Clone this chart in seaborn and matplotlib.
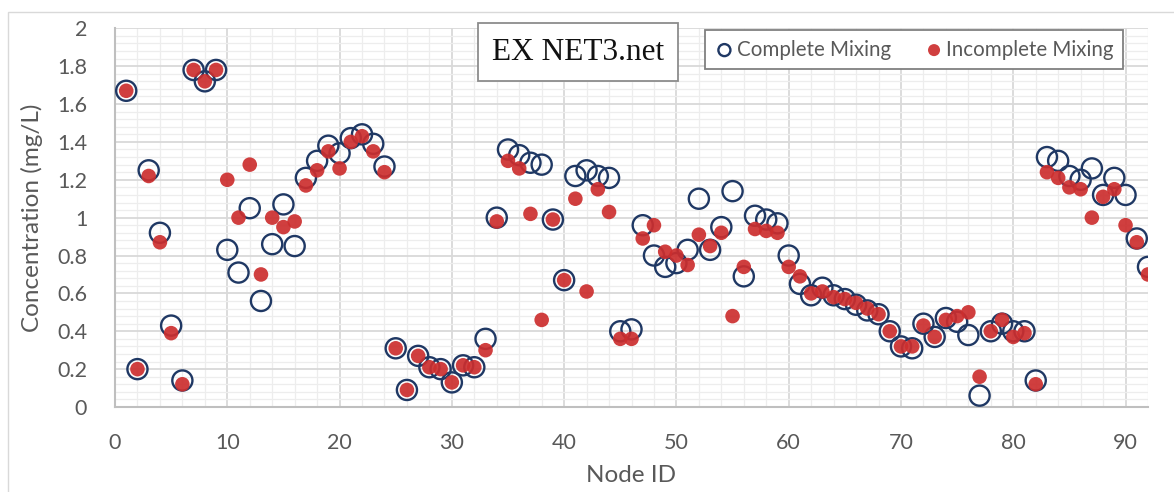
import numpy as np
import pandas as pd
import matplotlib
matplotlib.use("Agg")
import matplotlib.pyplot as plt
import matplotlib.patches as mpatches
from matplotlib.ticker import MultipleLocator, FuncFormatter
import seaborn as sns

# ---------------- data ----------------
node_ids = list(range(1, 93))
complete_mixing = [
    1.67, 0.20, 1.25, 0.92, 0.43, 0.14, 1.78, 1.72, 1.78, 0.83,
    0.71, 1.05, 0.56, 0.86, 1.07, 0.85, 1.21, 1.30, 1.38, 1.34,
    1.42, 1.44, 1.39, 1.27, 0.31, 0.09, 0.27, 0.21, 0.20, 0.13,
    0.22, 0.21, 0.36, 1.00, 1.36, 1.33, 1.29, 1.28, 0.99, 0.67,
    1.22, 1.25, 1.22, 1.21, 0.40, 0.41, 0.96, 0.80, 0.74, 0.76,
    0.83, 1.10, 0.83, 0.95, 1.14, 0.69, 1.01, 0.99, 0.97, 0.80,
    0.65, 0.59, 0.63, 0.59, 0.57, 0.54, 0.51, 0.49, 0.40, 0.32,
    0.31, 0.44, 0.37, 0.47, 0.45, 0.38, 0.06, 0.40, 0.44, 0.40,
    0.40, 0.14, 1.32, 1.30, 1.22, 1.20, 1.26, 1.12, 1.21, 1.12,
    0.89, 0.74,
]
incomplete_mixing = [
    1.67, 0.20, 1.22, 0.87, 0.39, 0.12, 1.78, 1.72, 1.78, 1.20,
    1.00, 1.28, 0.70, 1.00, 0.95, 0.98, 1.17, 1.25, 1.35, 1.26,
    1.40, 1.43, 1.35, 1.24, 0.31, 0.09, 0.27, 0.21, 0.20, 0.13,
    0.22, 0.21, 0.30, 0.98, 1.30, 1.26, 1.02, 0.46, 0.99, 0.67,
    1.10, 0.61, 1.15, 1.03, 0.36, 0.36, 0.89, 0.96, 0.82, 0.80,
    0.75, 0.91, 0.85, 0.92, 0.48, 0.74, 0.94, 0.93, 0.92, 0.74,
    0.69, 0.60, 0.61, 0.58, 0.57, 0.55, 0.52, 0.49, 0.40, 0.32,
    0.32, 0.43, 0.37, 0.46, 0.48, 0.50, 0.16, 0.40, 0.46, 0.37,
    0.39, 0.12, 1.24, 1.21, 1.16, 1.15, 1.00, 1.11, 1.15, 0.96,
    0.87, 0.70,
]
series_labels = ["Complete Mixing", "Incomplete Mixing"]
chart_title = "EX NET3.net"
x_label = "Node ID"
y_label = "Concentration (mg/L)"
x_ticks = [0, 10, 20, 30, 40, 50, 60, 70, 80, 90]
y_ticks = [0, 0.2, 0.4, 0.6, 0.8, 1.0, 1.2, 1.4, 1.6, 1.8, 2.0]

# ---------------- style ----------------
sns.set_theme(style="white")
plt.rcParams["font.family"] = ["Lato", "DejaVu Sans"]

W, H = 1174, 492
fig = plt.figure(figsize=(W / 100, H / 100), dpi=100)
ax = fig.add_axes([115 / W, 1 - 407 / H, (1148 - 115) / W, (407 - 28.3) / H])

navy = "#1F3864"
red = "#CC2E2E"
txt = "#595959"

df_c = pd.DataFrame({"node": node_ids, "conc": complete_mixing})
df_i = pd.DataFrame({"node": node_ids, "conc": incomplete_mixing})

sns.scatterplot(data=df_c, x="node", y="conc", ax=ax, s=210, facecolor="none",
                edgecolor=navy, linewidth=1.7, label=series_labels[0], zorder=3)
sns.scatterplot(data=df_i, x="node", y="conc", ax=ax, s=110, color=red,
                edgecolor="none", linewidth=0, alpha=0.92, label=series_labels[1], zorder=4)

ax.set_xlim(0, 92)
ax.set_ylim(0, 2)
ax.set_xticks(x_ticks)
ax.set_yticks(y_ticks)
ax.xaxis.set_minor_locator(MultipleLocator(2))
ax.yaxis.set_minor_locator(MultipleLocator(0.04))
ax.yaxis.set_major_formatter(FuncFormatter(lambda v, p: f"{v:g}"))

ax.grid(which="major", color="#D9D9D9", linewidth=1.3, zorder=0)
ax.grid(which="minor", color="#EDEDED", linewidth=0.9, zorder=0)
ax.set_axisbelow(True)

for s in ["top", "right"]:
    ax.spines[s].set_visible(False)
for s in ["left", "bottom"]:
    ax.spines[s].set_color("#BFBFBF")
    ax.spines[s].set_linewidth(1.5)

ax.tick_params(axis="both", which="major", direction="out", length=6, width=1.3,
               color="#BFBFBF", labelcolor=txt, labelsize=15.5, pad=14)
ax.tick_params(axis="both", which="minor", length=0)
ax.tick_params(axis="x", pad=13)

ax.set_xlabel(x_label, fontsize=17.5, color=txt, labelpad=8)
ax.set_ylabel(y_label, fontsize=17.5, color=txt, labelpad=10)

leg = ax.legend(loc="center", bbox_to_anchor=(914 / W, 1 - 49.5 / H),
                bbox_transform=fig.transFigure, ncol=2, frameon=True,
                fancybox=False, framealpha=1, edgecolor="#808080",
                fontsize=14.8, handletextpad=0.1, columnspacing=1.6,
                borderpad=0.45, handlelength=1.0)
leg.get_frame().set_linewidth(1.3)
for t in leg.get_texts():
    t.set_color(txt)
for h in leg.legend_handles:
    h.set_sizes([75])

fig.text(578 / W, 1 - 52 / H, chart_title, family="Liberation Serif", fontsize=22.5,
         color="#111111", ha="center", va="center",
         bbox=dict(boxstyle="square,pad=0.45", fc="white", ec="#8C8C8C", lw=1.3))

fig.patches.append(mpatches.Rectangle((8 / W, -0.1), 2, 1 - 12 / H + 0.1,
                                      transform=fig.transFigure, fill=False,
                                      ec="#D9D9D9", lw=1.0))

fig.savefig("out.png", dpi=100)
